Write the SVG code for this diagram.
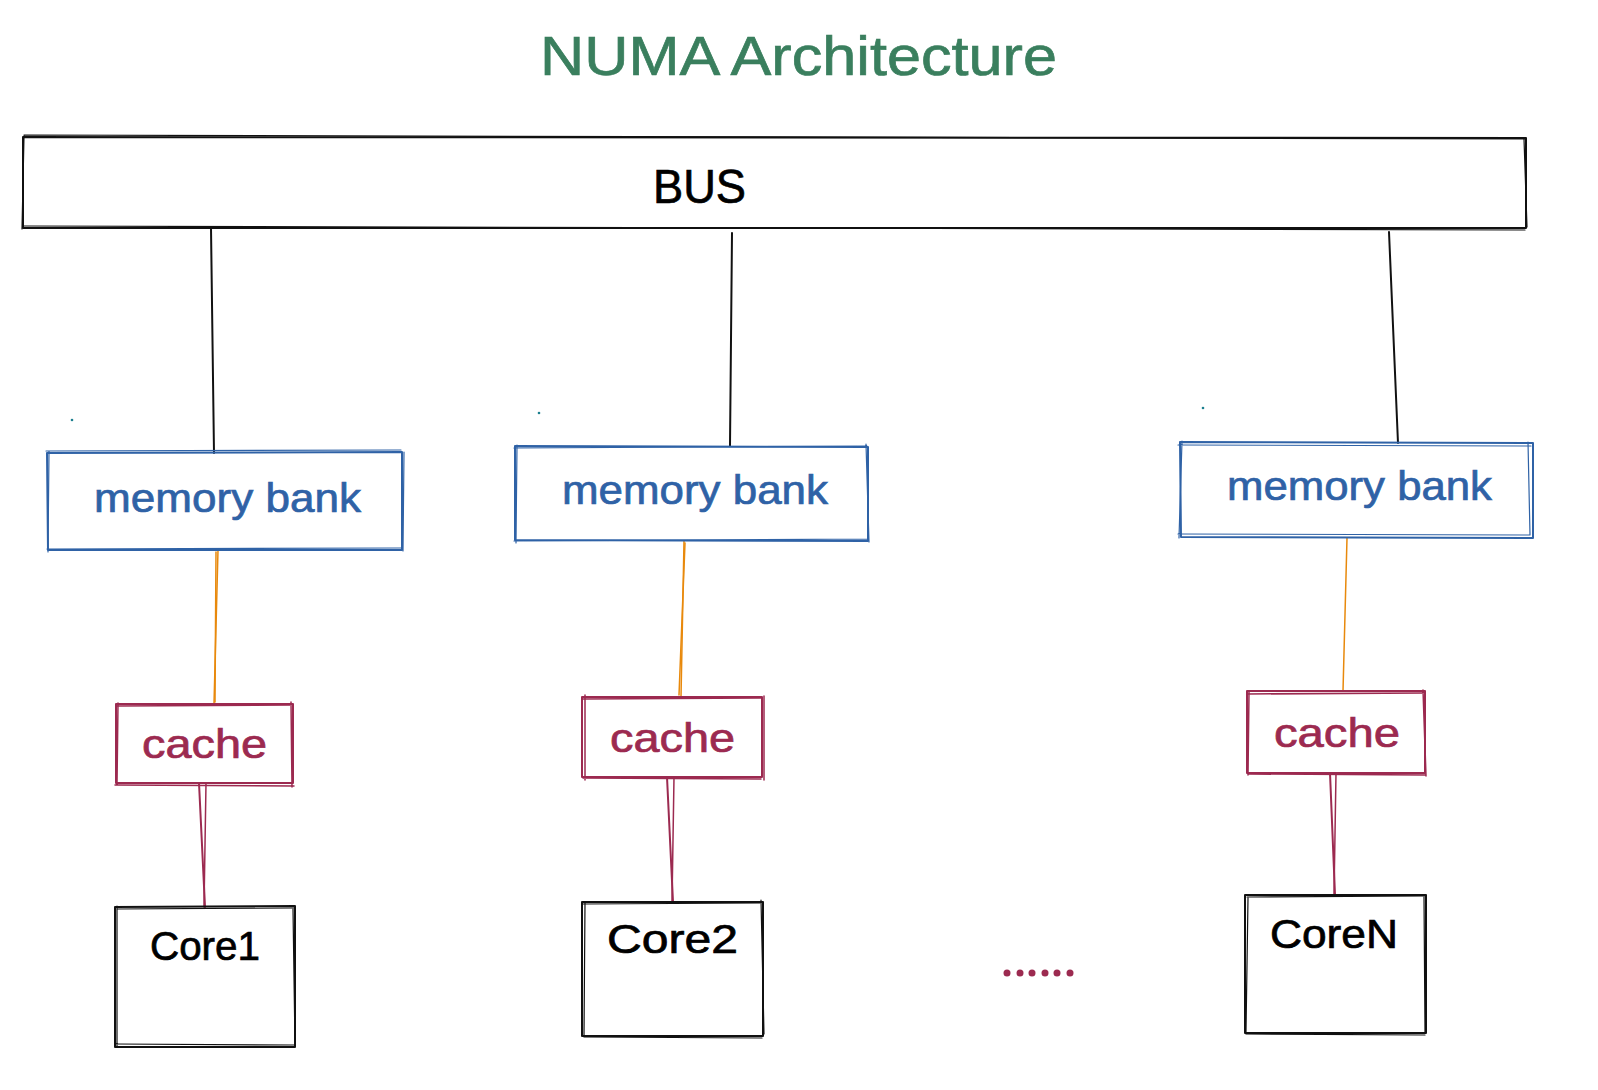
<svg xmlns="http://www.w3.org/2000/svg" width="1598" height="1090" viewBox="0 0 1598 1090">
<style>
  text { font-family: "Liberation Sans", "DejaVu Sans", sans-serif; stroke-width: 0.7; }
  .title { fill: #3a7f5e; stroke: #3a7f5e; font-size: 56px; }
  .bus-t { fill: #000; stroke: #000; font-size: 48px; }
  .mb-t { fill: #2f62a6; stroke: #2f62a6; font-size: 40px; }
  .ca-t { fill: #9c2a50; stroke: #9c2a50; font-size: 40px; }
  .co-t { fill: #000; stroke: #000; font-size: 40px; }
  .k { fill: none; stroke: #111; stroke-width: 2; stroke-linecap: round; stroke-linejoin: round; }
  .k2 { fill: none; stroke: #111; stroke-width: 1.2; stroke-linecap: round; }
  .b { fill: none; stroke: #2f62a6; stroke-width: 2; stroke-linecap: round; stroke-linejoin: round; }
  .b2 { fill: none; stroke: #2f62a6; stroke-width: 1.2; stroke-linecap: round; }
  .r { fill: none; stroke: #9c2a50; stroke-width: 2; stroke-linecap: round; stroke-linejoin: round; }
  .r2 { fill: none; stroke: #9c2a50; stroke-width: 1.5; stroke-linecap: round; }
  .o { fill: none; stroke: #e8890c; stroke-width: 1.5; stroke-linecap: round; }
  .blk { fill: none; stroke: #111; stroke-width: 2; stroke-linecap: round; }
</style>
<rect x="0" y="0" width="1598" height="1090" fill="#ffffff"/>

<g id="title">
  <text class="title" x="540" y="75" textLength="517" lengthAdjust="spacingAndGlyphs">NUMA Architecture</text>
</g>

<g id="bus">
  <path class="k" d="M23 137 L1526 138 L1526 228 L23 228 Z"/>
  <path class="k2" d="M24 135 L1525 139 M1524 139 L1527 227 M1525 230 L24 226 M22 229 L24 136"/>
  <text class="bus-t" x="653" y="203" textLength="93" lengthAdjust="spacingAndGlyphs">BUS</text>
</g>

<g id="connectors">
  <path class="blk" d="M211 228 L214 453"/>
  <path class="blk" d="M732 233 L730 446"/>
  <path class="blk" d="M1389 232 L1398 443"/>
  <path class="o" d="M218 550 L214 704"/>
  <path class="o" d="M216 552 L215 702"/>
  <path class="o" d="M684 541 L681 697"/>
  <path class="o" d="M685 543 L679 695"/>
  <path class="o" d="M1347 538 L1343 691"/>
  <path class="r" d="M199 783 L205 907"/>
  <path class="r2" d="M206 783 L204 907"/>
  <path class="r" d="M667 777 L673 902"/>
  <path class="r2" d="M674 777 L672 902"/>
  <path class="r" d="M1330 773 L1335 895"/>
  <path class="r2" d="M1336 773 L1334 895"/>
</g>

<g id="dots-teal" fill="#1c7f8f">
  <circle cx="72" cy="420" r="1.3"/>
  <circle cx="539" cy="413" r="1.3"/>
  <circle cx="1203" cy="408" r="1.3"/>
</g>

<g id="membank1">
  <path class="b" d="M47 453 L402 452 L402 550 L48 550 Z"/>
  <path class="b2" d="M46 451 L401 450 M404 452 L403 551 M401 548 L47 549 M49 451 L48 552"/>
  <text class="mb-t" x="94" y="512" textLength="267" lengthAdjust="spacingAndGlyphs">memory bank</text>
</g>
<g id="membank2">
  <path class="b" d="M515 446 L868 447 L868 541 L515 540 Z"/>
  <path class="b2" d="M514 448 L867 446 M866 444 L869 542 M869 539 L514 541 M517 445 L516 543"/>
  <text class="mb-t" x="562" y="504" textLength="266" lengthAdjust="spacingAndGlyphs">memory bank</text>
</g>
<g id="membank3">
  <path class="b" d="M1180 442 L1533 443 L1533 538 L1181 537 Z"/>
  <path class="b2" d="M1178 445 L1531 446 M1528 442 L1530 535 M1530 535 L1178 534 M1182 441 L1179 538"/>
  <text class="mb-t" x="1227" y="500" textLength="265" lengthAdjust="spacingAndGlyphs">memory bank</text>
</g>

<g id="cache1">
  <path class="r" d="M116 704 L293 704 L293 783 L116 783 Z"/>
  <path class="r2" d="M117 706 L292 705 M291 702 L292 787 M294 786 L115 785 M118 703 L117 784"/>
  <text class="ca-t" x="142" y="758" textLength="125" lengthAdjust="spacingAndGlyphs">cache</text>
</g>
<g id="cache2">
  <path class="r" d="M582 697 L762 697 L762 777 L582 777 Z"/>
  <path class="r2" d="M583 699 L761 698 M764 696 L764 780 M761 779 L583 778 M585 695 L585 780"/>
  <text class="ca-t" x="610" y="752" textLength="125" lengthAdjust="spacingAndGlyphs">cache</text>
</g>
<g id="cache3">
  <path class="r" d="M1247 691 L1425 691 L1425 773 L1247 773 Z"/>
  <path class="r2" d="M1248 694 L1424 693 M1423 690 L1426 776 M1426 775 L1249 774 M1249 692 L1248 775"/>
  <text class="ca-t" x="1274" y="747" textLength="126" lengthAdjust="spacingAndGlyphs">cache</text>
</g>

<g id="core1">
  <path class="k" d="M115 907 L295 906 L295 1047 L115 1047 Z"/>
  <path class="k2" d="M117 909 L294 908 M293 909 L295 1045 M294 1045 L116 1044 M117 906 L117 1046"/>
  <text class="co-t" x="150" y="960" textLength="110" lengthAdjust="spacingAndGlyphs">Core1</text>
</g>
<g id="core2">
  <path class="k" d="M582 902 L763 902 L763 1036 L582 1036 Z"/>
  <path class="k2" d="M583 904 L762 903 M761 900 L764 1034 M762 1038 L584 1037 M585 903 L584 1036"/>
  <text class="co-t" x="607" y="953" textLength="131" lengthAdjust="spacingAndGlyphs">Core2</text>
</g>
<g id="coreN">
  <path class="k" d="M1245 895 L1426 895 L1426 1033 L1245 1033 Z"/>
  <path class="k2" d="M1247 897 L1425 896 M1424 897 L1425 1032 M1425 1035 L1246 1034 M1248 898 L1246 1032"/>
  <text class="co-t" x="1270" y="948" textLength="128" lengthAdjust="spacingAndGlyphs">CoreN</text>
</g>

<g id="ellipsis" fill="#9c2a50">
  <circle cx="1007" cy="973" r="3.5"/>
  <circle cx="1020" cy="973" r="3.5"/>
  <circle cx="1032" cy="973" r="3.5"/>
  <circle cx="1045" cy="973" r="3.5"/>
  <circle cx="1057" cy="973" r="3.5"/>
  <circle cx="1070" cy="973" r="3.5"/>
</g>
</svg>
